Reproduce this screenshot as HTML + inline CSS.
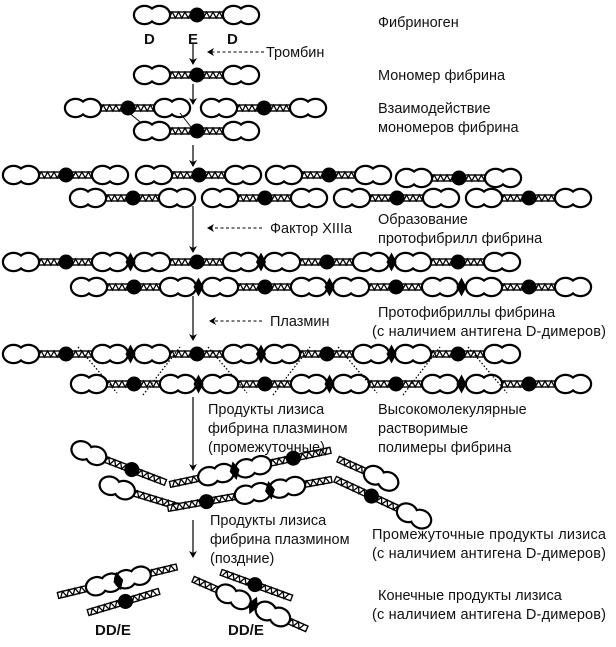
<!DOCTYPE html>
<html><head><meta charset="utf-8"><style>
html,body{margin:0;padding:0;background:#fff;}
svg{display:block;}
text{font-family:"Liberation Sans","DejaVu Sans",sans-serif;font-size:14.5px;fill:#111;}
.b{font-weight:bold;font-size:15px;}
</style></head><body>
<svg id="s" width="616" height="647" viewBox="0 0 616 647" xmlns="http://www.w3.org/2000/svg">
<defs><marker id="ah" markerWidth="8" markerHeight="8" refX="6" refY="4" orient="auto" markerUnits="userSpaceOnUse"><path d="M0,0 L7,4 L0,8 L2,4 Z" fill="#000"/></marker></defs>
<g id="g"></g>
<g stroke="#000" stroke-width="1.2" fill="none" marker-end="url(#ah)">
<line x1="193" y1="44" x2="193" y2="64"/>
<line x1="193" y1="84" x2="193" y2="104"/>
<line x1="193" y1="145" x2="193" y2="166"/>
<line x1="193" y1="206" x2="193" y2="252"/>
<line x1="193" y1="296" x2="193" y2="340"/>
<line x1="193" y1="397" x2="193" y2="470"/>
<line x1="193" y1="520" x2="193" y2="557"/>
</g>
<g stroke="#000" stroke-width="1" fill="none" stroke-dasharray="3 2.5" marker-end="url(#ah)">
<line x1="264" y1="52" x2="208" y2="52"/>
<line x1="262" y1="228" x2="208" y2="228"/>
<line x1="262" y1="321" x2="210" y2="321"/>
</g>
<text class="b" x="144" y="44">D</text>
<text class="b" x="188" y="44">E</text>
<text class="b" x="227" y="44">D</text>
<text x="266" y="57">Тромбин</text>
<text x="270" y="233">Фактор XIIIa</text>
<text x="270" y="326">Плазмин</text>
<text x="378" y="27">Фибриноген</text>
<text x="378" y="80">Мономер фибрина</text>
<text x="378" y="113">Взаимодействие</text>
<text x="378" y="132">мономеров фибрина</text>
<text x="378" y="224">Образование</text>
<text x="378" y="243">протофибрилл фибрина</text>
<text x="378" y="317">Протофибриллы фибрина</text>
<text x="372" y="336" textLength="234">(с наличием антигена D-димеров)</text>
<text x="378" y="414">Высокомолекулярные</text>
<text x="378" y="433">растворимые</text>
<text x="378" y="452">полимеры фибрина</text>
<text x="208" y="414">Продукты лизиса</text>
<text x="208" y="433">фибрина плазмином</text>
<text x="208" y="452">(промежуточные)</text>
<text x="210" y="525">Продукты лизиса</text>
<text x="210" y="544">фибрина плазмином</text>
<text x="210" y="563">(поздние)</text>
<text x="372" y="539" textLength="234">Промежуточные продукты лизиса</text>
<text x="372" y="558" textLength="234">(с наличием антигена D-димеров)</text>
<text x="378" y="600">Конечные  продукты лизиса</text>
<text x="372" y="619" textLength="234">(с наличием антигена D-димеров)</text>
<text class="b" x="95" y="635">DD/E</text>
<text class="b" x="228" y="635">DD/E</text>
</svg>
<script>
var out=[];
function chain(x,y,ang,items){
  var coils=[],ds=[],es=[],xs=[],p=0;
  items.forEach(function(it){
    if(it==='D'){ds.push(p);p+=34;}
    else if(it==='E'){es.push(p);}
    else if(it[0]==='c'){coils.push([p,it[1]]);p+=it[1];}
    else if(it[0]==='X'){xs.push(p+it[1]/2);p+=it[1];}
  });
  var s='<g transform="translate('+x+','+y+') rotate('+ang+')">';
  coils.forEach(function(c){
    var a=c[0]-2,l=c[1]+4;
    s+='<rect x="'+a+'" y="-3" width="'+l+'" height="6" fill="#fff" stroke="#000" stroke-width="1.4"/>';
    var pts=[],t=0,k=0;
    for(t=a+2;t<=a+l-2;t+=3.2){pts.push(t.toFixed(1)+','+(k%2?-3:3));k++;}
    s+='<polyline points="'+pts.join(' ')+'" fill="none" stroke="#000" stroke-width="1.3"/>';
  });
  ds.forEach(function(d){
    s+='<ellipse cx="'+(d+9.5)+'" cy="0" rx="9.5" ry="8" fill="#000" stroke="#000" stroke-width="4.4"/>';
    s+='<ellipse cx="'+(d+24.5)+'" cy="0" rx="9.5" ry="8" fill="#000" stroke="#000" stroke-width="4.4"/>';
    s+='<ellipse cx="'+(d+9.5)+'" cy="0" rx="9.5" ry="8" fill="#fff"/>';
    s+='<ellipse cx="'+(d+24.5)+'" cy="0" rx="9.5" ry="8" fill="#fff"/>';
  });
  es.forEach(function(e){s+='<circle cx="'+e+'" cy="0" r="7.5" fill="#000"/>';});
  xs.forEach(function(c){s+='<polygon points="'+c+',-9.5 '+(c+5)+',0 '+c+',9.5 '+(c-5)+',0" fill="#000"/>';});
  s+='</g>';
  out.push(s);
}
var M=['D',['c',28],'E',['c',27],'D'];
function mol(x,y){chain(x,y,0,M);}
mol(135,15);mol(135,75);
mol(66,108);mol(202,108);
out.push('<g stroke="#000" stroke-width="0.9"><line x1="128" y1="112" x2="145" y2="126"/><line x1="180" y1="113" x2="191" y2="127"/></g>');
mol(135,131);
[4,137,267,397].forEach(function(x,i){mol(x,i==3?178:175);});
[71,203,335,467].forEach(function(x){mol(x,198);});
var C=[4,135,265,396],Dd=[72,203,334,467];
function protoRow(y,st){st.forEach(function(x){mol(x,y);});
  for(var i=0;i<st.length-1;i++){var c=(st[i]+122+st[i+1])/2;out.push('<polygon points="'+c+','+(y-9.5)+' '+(c+5)+','+y+' '+c+','+(y+9.5)+' '+(c-5)+','+y+'" fill="#000"/>');}}
protoRow(262,C);protoRow(287,Dd);
protoRow(354,C);protoRow(384,Dd);
var dl='';
for(var k=0;k<4;k++){var o=k*130;dl+='<line x1="'+(78+o)+'" y1="347" x2="'+(117+o)+'" y2="393"/>';if(k<3)dl+='<line x1="'+(143+o)+'" y1="395" x2="'+(180+o)+'" y2="347"/>';}
out.push('<g stroke="#000" stroke-width="1.3" stroke-dasharray="1.5 2">'+dl+'</g>');
chain(73,447,21,['D',['c',29],'E',['c',34]]);
chain(101,483,17,['D',['c',45]]);
chain(172,484,-12,[['c',28],'D',['X',4],'D',['c',24],'E',['c',36]]);
chain(170,508,-10,[['c',37],'E',['c',30],'D',['X',1],'D',['c',26]]);
chain(340,460,24,[['c',28],'D']);
chain(337,480,25,[['c',38],'E',['c',30],'D']);
chain(60,595,-13.5,[['c',28],'D',['X',-4],'D',['c',26]]);
chain(90,612,-16.6,[['c',37],'E',['c',33]]);
chain(223,573,20,[['c',34],'E',['c',37]]);
chain(195,580,23.6,[['c',25],'D',['X',9],'D',['c',18]]);
document.getElementById('g').innerHTML=out.join('');
</script>
</body></html>
